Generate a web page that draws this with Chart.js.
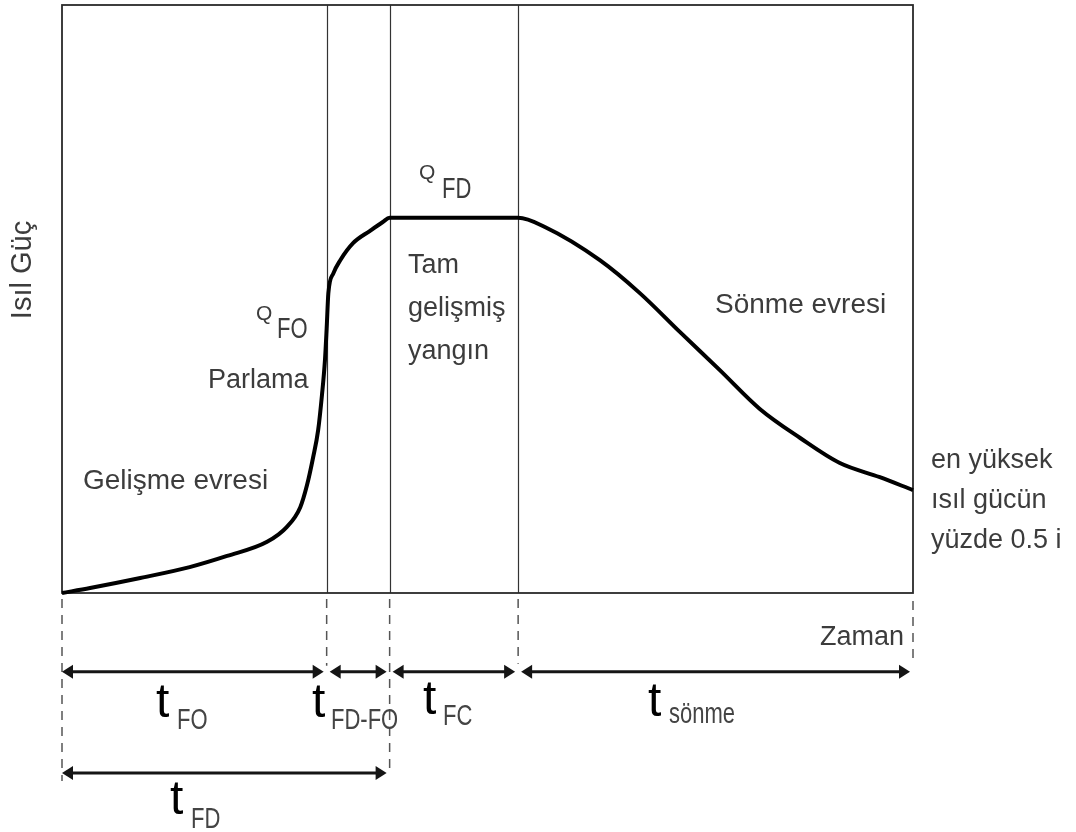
<!DOCTYPE html>
<html>
<head>
<meta charset="utf-8">
<script src="https://cdn.jsdelivr.net/npm/chart.js@4"></script>
<style>
  html, body { margin: 0; padding: 0; background: #fff; }
  canvas { display: block; }
</style>
</head>
<body>
<canvas id="chart" width="1076" height="832"></canvas>
<script>
// time axis 0..100, heat release 0..100 (arbitrary units)
const timeVals = [0, 3.3, 9.2, 15.0, 19.4, 24.1, 26.4, 28.0, 28.8, 29.5, 30.1, 30.55, 30.9, 31.1, 31.3,
                  31.9, 32.7, 34.2, 36.2, 37.7, 38.5, 53.6, 56.8, 63.2, 67.9, 72.6, 77.3, 82.0, 86.7, 91.4, 96.1, 100];
const heatVals = [0, 0.85, 2.55, 4.4, 6.3, 8.7, 11.2, 14.6, 18.4, 23.0, 27.7, 33.7, 39.6, 45.0, 51.0,
                  54.4, 56.6, 59.5, 61.6, 63.1, 63.8, 63.8, 62.2, 56.6, 51.0, 44.4, 37.9, 31.3, 26.4, 22.1, 19.7, 17.5];

// phase boundaries: flashover, fully developed, decay start
const phaseTimes = [31.1, 38.5, 53.6];

// duration arrows below the axis: [from, to]
const spanRow1 = [[0, 31.1], [31.1, 38.5], [38.5, 53.6], [53.6, 100]];
const spanRow2 = [[0, 38.5]];

const points = timeVals.map((t, i) => ({ x: t, y: heatVals[i] }));

function label(ctx, text, x, y, size, opts) {
  opts = opts || {};
  ctx.save();
  ctx.translate(x, y);
  if (opts.rot) ctx.rotate(opts.rot);
  ctx.scale(1, opts.sy || 1);
  ctx.font = size + 'px "Liberation Sans", Arial, sans-serif';
  ctx.fillStyle = opts.color || '#3c3c3c';
  ctx.textAlign = opts.align || 'left';
  ctx.textBaseline = 'alphabetic';
  ctx.fillText(text, 0, 0);
  ctx.restore();
}

function arrowHead(ctx, x, y, dir) {
  ctx.beginPath();
  ctx.moveTo(x, y);
  ctx.lineTo(x - dir * 11, y - 7);
  ctx.lineTo(x - dir * 11, y + 7);
  ctx.closePath();
  ctx.fill();
}

function dashed(ctx, x, y1, y2) {
  ctx.save();
  ctx.strokeStyle = '#555';
  ctx.lineWidth = 1.5;
  ctx.setLineDash([9, 7]);
  ctx.beginPath();
  ctx.moveTo(x, y1);
  ctx.lineTo(x, y2);
  ctx.stroke();
  ctx.restore();
}

const diagram = {
  id: 'diagram',
  beforeDatasetsDraw(chart) {
    const { ctx, chartArea: a, scales: { x } } = chart;
    ctx.save();
    ctx.strokeStyle = '#333';
    ctx.lineWidth = 1.2;
    phaseTimes.forEach(t => {
      const px = Math.round(x.getPixelForValue(t)) + 0.5;
      ctx.beginPath();
      ctx.moveTo(px, a.top);
      ctx.lineTo(px, a.bottom);
      ctx.stroke();
    });
    ctx.strokeStyle = '#2a2a2a';
    ctx.lineWidth = 1.8;
    ctx.strokeRect(a.left, a.top, a.right - a.left, a.bottom - a.top);
    ctx.restore();
  },
  afterDatasetsDraw(chart) {
    const { ctx, chartArea: a, scales: { x, y } } = chart;
    const row1 = y.getPixelForValue(-13.4);
    const row2 = y.getPixelForValue(-30.6);

    // dashed guides
    dashed(ctx, x.getPixelForValue(0), a.bottom + 6, row2 + 8);
    dashed(ctx, x.getPixelForValue(phaseTimes[0]), a.bottom + 6, row1 - 6);
    dashed(ctx, x.getPixelForValue(phaseTimes[1]), a.bottom + 6, row2);
    dashed(ctx, x.getPixelForValue(phaseTimes[2]), a.bottom + 6, row1 - 8);
    dashed(ctx, x.getPixelForValue(100), a.bottom + 8, row1 - 8);

    ctx.save();
    ctx.strokeStyle = '#151515';
    ctx.fillStyle = '#151515';
    ctx.lineWidth = 3;
    [[spanRow1, row1], [spanRow2, row2]].forEach(([row, py]) => {
      row.forEach(([t0, t1]) => {
        const x0 = x.getPixelForValue(t0) + (t0 === 0 ? 0 : 3);
        const x1 = x.getPixelForValue(t1) - 3;
        ctx.beginPath();
        ctx.moveTo(x0 + 4, py);
        ctx.lineTo(x1 - 4, py);
        ctx.stroke();
        arrowHead(ctx, x0, py, -1);
        arrowHead(ctx, x1, py, 1);
      });
    });
    ctx.restore();

    // duration labels
    const tLab = (px, py, sub, sx, sby) => {
      label(ctx, 't', px, py, 48, { color: '#000' });
      label(ctx, sub, sx, sby, 22, { sy: 1.35, color: '#444' });
    };
    tLab(156, 717, 'FO', 177, 729);
    tLab(312, 717, 'FD-FO', 331, 729);
    tLab(423, 714, 'FC', 443, 725);
    tLab(648, 716, 'sönme', 669, 723);
    tLab(170, 814, 'FD', 191, 828);

    // texts inside the plot
    label(ctx, 'Isıl Güç', 31, 270, 29, { rot: -Math.PI / 2, align: 'center' });
    label(ctx, 'Gelişme evresi', 83, 489, 28);
    label(ctx, 'Q', 256, 320, 21);
    label(ctx, 'FO', 277, 338, 22, { sy: 1.3 });
    label(ctx, 'Parlama', 208, 388, 27);
    label(ctx, 'Q', 419, 179, 21);
    label(ctx, 'FD', 442, 198, 22, { sy: 1.3 });
    label(ctx, 'Tam', 408, 273, 27);
    label(ctx, 'gelişmiş', 408, 316, 27);
    label(ctx, 'yangın', 408, 359, 27);
    label(ctx, 'Sönme evresi', 715, 313, 28);
    label(ctx, 'en yüksek', 931, 468, 27);
    label(ctx, 'ısıl gücün', 931, 508, 27);
    label(ctx, 'yüzde 0.5 i', 931, 548, 27);
    label(ctx, 'Zaman', 904, 645, 27, { align: 'right' });
  }
};

new Chart(document.getElementById('chart'), {
  type: 'line',
  data: {
    datasets: [{
      data: points,
      borderColor: '#000',
      borderWidth: 4,
      pointRadius: 0,
      fill: false,
      cubicInterpolationMode: 'monotone',
      clip: 6
    }]
  },
  options: {
    responsive: false,
    animation: false,
    layout: { padding: { left: 62, top: 5, right: 163, bottom: 239 } },
    plugins: { legend: { display: false }, tooltip: { enabled: false } },
    scales: {
      x: { type: 'linear', min: 0, max: 100, display: false },
      y: { type: 'linear', min: 0, max: 100, display: false }
    }
  },
  plugins: [diagram]
});
</script>
</body>
</html>
